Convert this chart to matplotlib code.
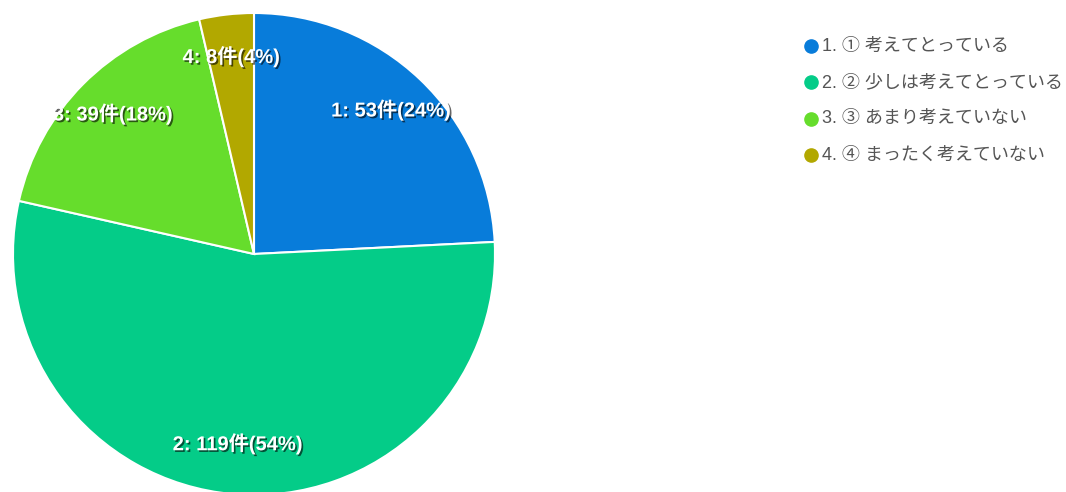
import matplotlib
matplotlib.use("Agg")
import matplotlib.pyplot as plt
import matplotlib.patheffects as pe
import numpy as np

# data
labels = ["① 考えてとっている", "② 少しは考えてとっている", "③ あまり考えていない", "④ まったく考えていない"]
counts = [53, 119, 39, 8]
colors = ["#087CDA", "#04CC88", "#66DD2C", "#B2A800"]

fonts = ["Liberation Sans", "Noto Sans CJK JP", "DejaVu Sans"]

W, H = 1066, 492
fig = plt.figure(figsize=(W / 100, H / 100), dpi=100)

cx, cy, r = 254, 254, 241
ax = fig.add_axes([(cx - r) / W, (H - cy - r) / H, 2 * r / W, 2 * r / H])

total = sum(counts)
wedges, _ = ax.pie(counts, colors=colors, startangle=90, counterclock=False,
                   radius=1, wedgeprops=dict(edgecolor="white", linewidth=1.5))
ax.set_xlim(-1, 1)
ax.set_ylim(-1, 1)
ax.set_aspect("equal")
ax.axis("off")

for i, (w, c) in enumerate(zip(wedges, counts)):
    ang = np.deg2rad((w.theta1 + w.theta2) / 2)
    d = 0.79 if i == 1 else 0.825
    txt = "%d: %d件(%d%%)" % (i + 1, c, round(c / total * 100))
    ax.text(d * np.cos(ang), d * np.sin(ang), txt, ha="center", va="center",
            color="white", fontsize=14.5, fontweight="bold", family=fonts,
            path_effects=[pe.SimplePatchShadow(offset=(1.2, -1.2), shadow_rgbFace="black", alpha=0.6),
                          pe.Normal()])

# legend
lx, ly0, dy = 811, 46, 36.3
for i, (lab, col) in enumerate(zip(labels, colors)):
    y = 1 - (ly0 + i * dy) / H
    fig.lines.append(plt.Line2D([lx / W], [y], transform=fig.transFigure, marker="o",
                                markersize=9.5, color=col, linestyle="none"))
    fig.text((lx + 11) / W, y, "%d. %s" % (i + 1, lab), ha="left", va="center",
             fontsize=13, color="#555555", family=fonts)

fig.savefig("out.png", dpi=100)
